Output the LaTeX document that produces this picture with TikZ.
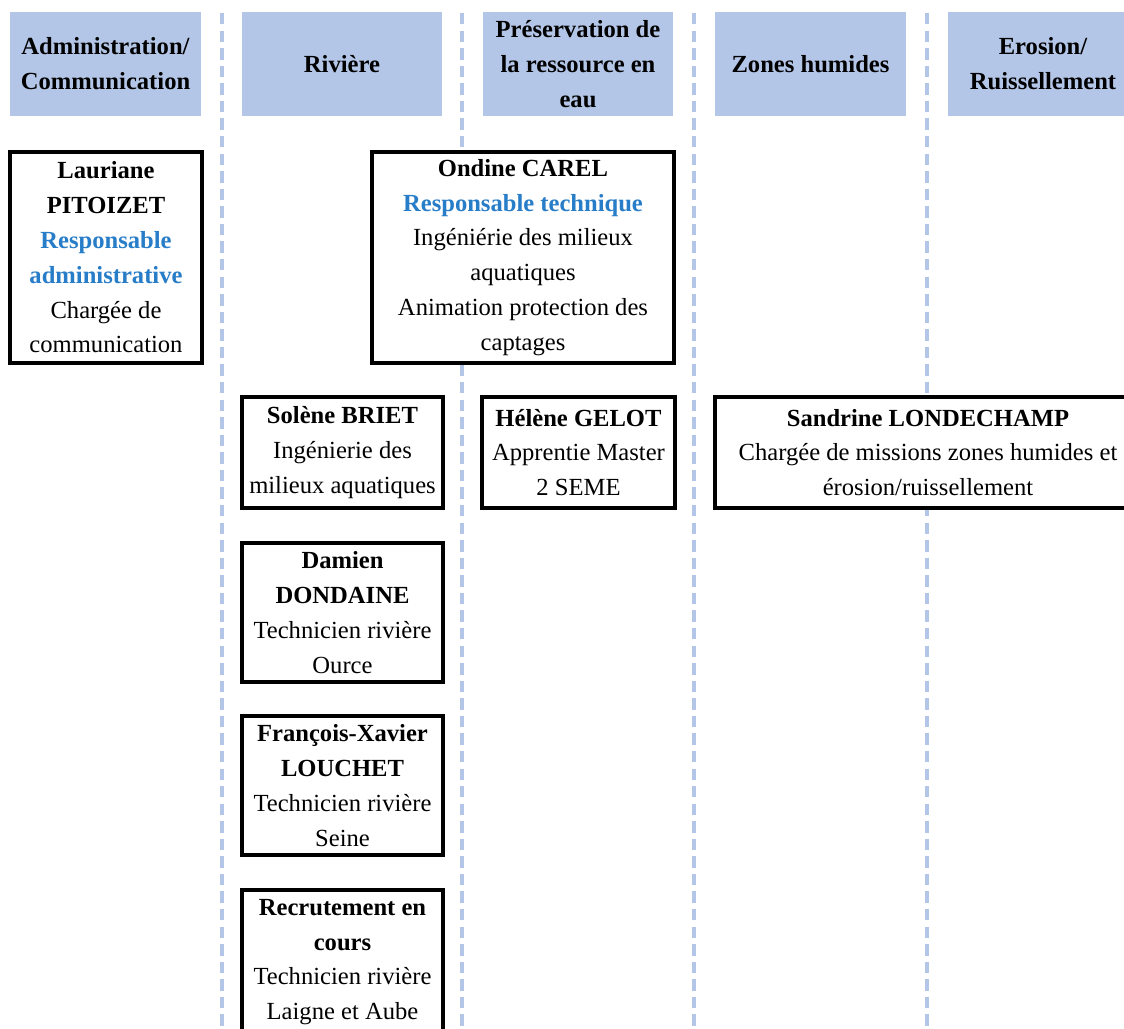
\documentclass[tikz,border=0pt]{standalone}
\usepackage{fontspec}
\setmainfont{Liberation Serif}
\usepackage{tikz}
\usetikzlibrary{positioning}

\definecolor{headblue}{RGB}{180,198,231}
\definecolor{respblue}{RGB}{40,125,200}

\begin{document}
\begin{tikzpicture}[x=0.02cm, y=-0.02cm,
    font=\fontsize{14pt}{19.8pt}\selectfont,
    head/.style={fill=headblue, font=\fontsize{14pt}{19.8pt}\selectfont\bfseries,
      align=center, inner sep=0pt, minimum height=2.08cm},
    person/.style={draw, line width=2pt, fill=white, align=center,
      inner sep=0pt},
    divider/.style={headblue, line width=2pt, dash pattern=on 6.5pt off 3.5pt}]
  \useasboundingbox (0,0) rectangle (1124,1028);

  % column dividers
  \draw[divider] (222,13) -- (222,1028);
  \draw[divider] (462,13) -- (462,1028);
  \draw[divider] (694,13) -- (694,1028);
  \draw[divider] (927,13) -- (927,1028);

  % column headers
  \node[head, minimum width=3.82cm] (adm) at (105.5,64) {Administration/\\Communication};
  \node[head, minimum width=4.00cm] (riv) at (342,64) {Rivière};
  \node[head, minimum width=3.80cm] (pres) at (578,64) {Préservation de\\la ressource en\\eau};
  \node[head, minimum width=3.82cm] (zon) at (810.5,64) {Zones humides};
  \node[head, minimum width=3.80cm] (ero) at (1043,64) {Erosion/\\Ruissellement};

  % staff
  \node[person, minimum width=3.84cm, minimum height=4.22cm] (laur) at (106,257.5)
    {\textbf{Lauriane}\\\textbf{PITOIZET}\\\textcolor{respblue}{\textbf{Responsable}}\\
     \textcolor{respblue}{\textbf{administrative}}\\Chargée de\\communication};
  \node[person, minimum width=6.04cm, minimum height=4.22cm] (ond) at (523,257.5)
    {\textbf{Ondine CAREL}\\\textcolor{respblue}{\textbf{Responsable technique}}\\
     Ingéniérie des milieux\\aquatiques\\Animation protection des\\captages};
  \node[person, minimum width=4.02cm, minimum height=2.22cm] (sol) at (342.5,452.5)
    {\textbf{Solène BRIET}\\Ingénierie des\\milieux aquatiques};
  \node[person, minimum width=3.86cm, minimum height=2.22cm] (hel) at (578.5,452.5)
    {\textbf{Hélène GELOT}\\Apprentie Master\\2 SEME};
  \node[person, minimum width=8.52cm, minimum height=2.22cm] (san) at (928,452.5)
    {\textbf{Sandrine LONDECHAMP}\\Chargée de missions zones humides et\\érosion/ruissellement};
  \node[person, minimum width=4.02cm, minimum height=2.78cm] (dam) at (342.5,612.5)
    {\textbf{Damien}\\\textbf{DONDAINE}\\Technicien rivière\\Ource};
  \node[person, minimum width=4.02cm, minimum height=2.78cm] (fx) at (342.5,785.5)
    {\textbf{François-Xavier}\\\textbf{LOUCHET}\\Technicien rivière\\Seine};
  \node[person, minimum width=4.02cm, minimum height=2.88cm] (rec) at (342.5,962)
    {\textbf{Recrutement en}\\\textbf{cours}\\Technicien rivière\\Laigne et Aube};
\end{tikzpicture}
\end{document}
